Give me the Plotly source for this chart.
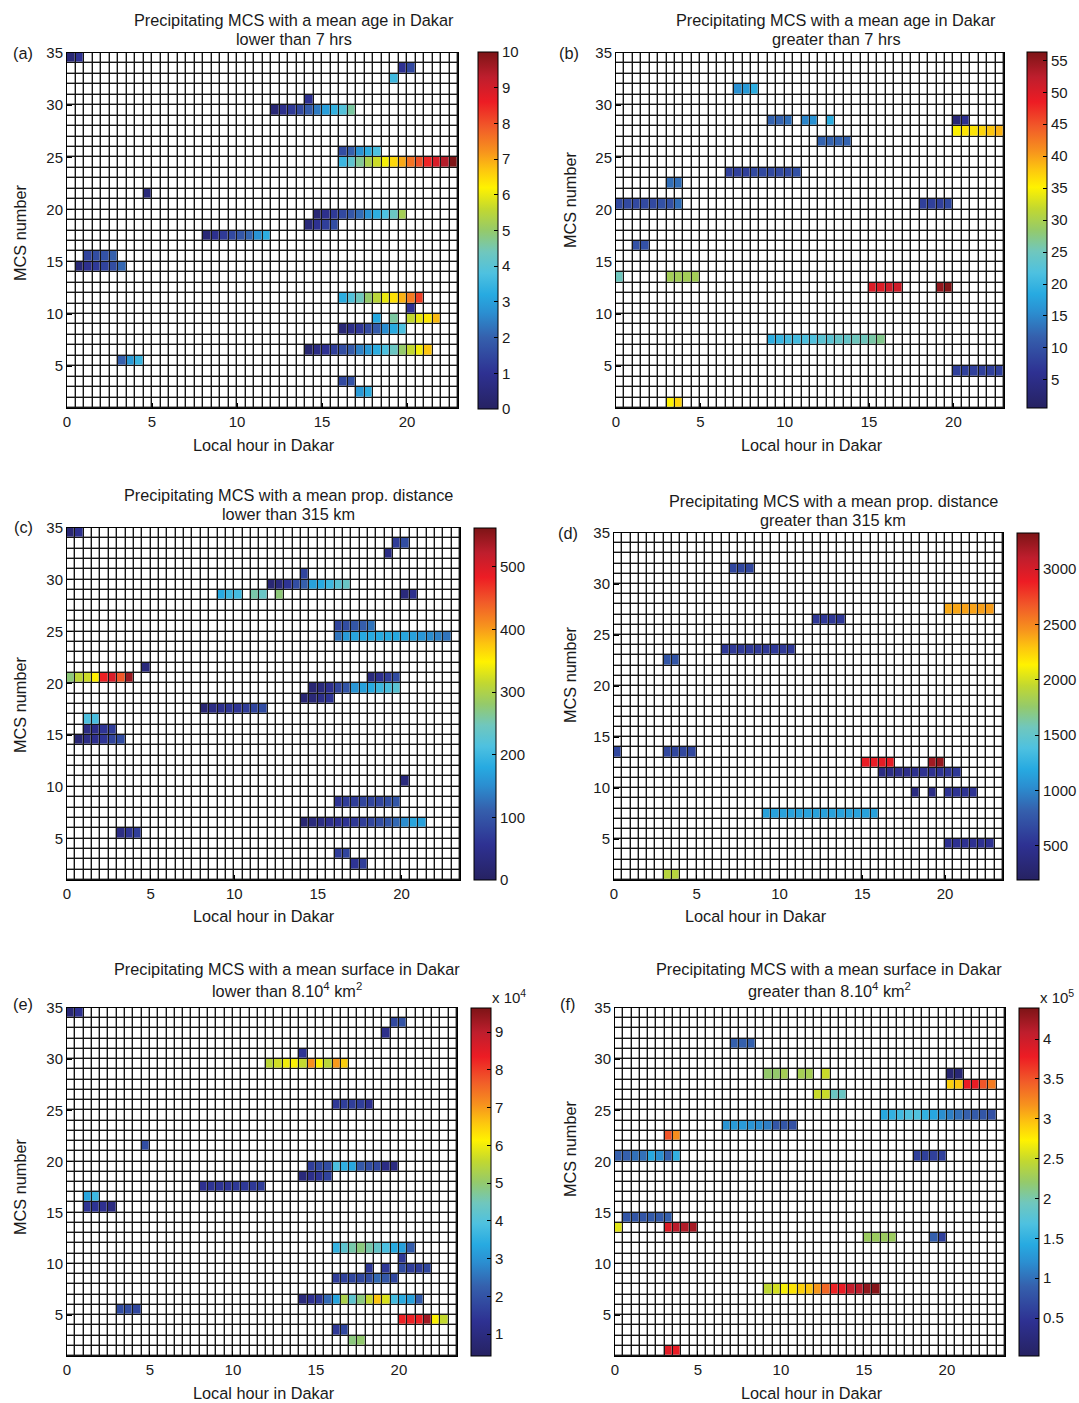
import numpy as np
import plotly.graph_objects as go

W, H = 1079, 1403

# ---------------- DATA ----------------
# Each track: MCS number (row, lower edge), start hour, values of consecutive half-hour cells
# (a) mean age < 7 hrs
A_MCS = [34, 33, 32, 30, 29, 25, 24, 21, 19, 18, 17, 15, 14, 11, 10, 9, 9, 9, 8, 6, 5, 3, 2]
A_START = [0.0, 19.5, 19.0, 14.0, 12.0, 16.0, 16.0, 4.5, 14.5, 14.0, 8.0, 1.0, 0.5, 16.0, 20.0,
           18.0, 19.0, 20.0, 16.0, 14.0, 3.0, 16.0, 17.0]
A_VALUES = [
    [0.4, 1.0], [1.0, 1.5], [3.6], [1.0],
    [0.4, 0.9, 1.2, 1.5, 1.9, 2.4, 3.0, 3.4, 3.9, 4.6],
    [1.6, 2.0, 2.8, 3.3, 3.8],
    [3.5, 4.1, 4.7, 5.3, 5.7, 6.1, 6.5, 7.0, 7.6, 8.0, 8.5, 8.9, 9.4, 10.0],
    [0.5],
    [0.4, 0.9, 1.2, 1.5, 1.8, 2.2, 2.8, 3.3, 3.8, 4.3, 5.2],
    [0.5, 1.0, 1.3, 1.6],
    [0.4, 0.9, 1.2, 1.5, 1.8, 2.1, 2.8, 3.3],
    [1.4, 1.6, 1.7, 2.0],
    [0.4, 0.9, 1.2, 1.4, 1.6, 2.1],
    [3.3, 3.9, 4.4, 5.0, 5.5, 6.0, 6.4, 6.9, 7.5, 8.2],
    [1.0], [3.2], [4.6], [5.6, 6.0, 6.3, 6.8],
    [0.4, 0.8, 1.1, 1.5, 1.9, 2.7, 3.2, 3.8],
    [0.3, 0.7, 1.0, 1.3, 1.6, 1.9, 2.5, 2.9, 3.3, 3.8, 4.3, 5.0, 5.6, 6.1, 6.7],
    [2.0, 2.9, 3.5], [1.5, 1.7], [2.9, 3.3],
]

# (b) mean age > 7 hrs
B_MCS = [31, 28, 28, 28, 28, 27, 26, 23, 22, 20, 20, 16, 13, 13, 12, 12, 7, 4, 1]
B_START = [7.0, 9.0, 11.0, 12.5, 20.0, 20.0, 12.0, 6.5, 3.0, 0.0, 18.0, 1.0, 0.0, 3.0, 15.0, 19.0,
           9.0, 20.0, 3.0]
B_VALUES = [
    [16, 17, 19], [12, 12, 13], [15, 16], [19], [3, 6],
    [35, 36, 36, 37, 38, 39],
    [12, 12, 12, 12],
    [8, 8, 8, 9, 9, 9, 9, 9, 10],
    [13, 13],
    [9, 9, 9, 9, 9, 10, 10, 13], [8, 8, 8, 9],
    [10, 10],
    [25], [29.5, 29.5, 29.5, 29.5],
    [50, 50, 51, 51], [55, 56],
    [19, 20, 21, 21, 22, 22, 23, 23, 24, 24, 25, 25, 26, 27],
    [8, 8, 8, 8, 8, 8],
    [35, 37],
]

# (c) mean propagation distance < 315 km
C_MCS = [34, 33, 32, 30, 29, 28, 28, 28, 28, 25, 24, 21, 20, 20, 19, 18, 17, 16, 15, 14, 10, 8, 6, 5, 3, 2]
C_START = [0.0, 19.5, 19.0, 14.0, 12.0, 9.0, 11.0, 12.5, 20.0, 16.0, 16.0, 4.5, 0.0, 18.0, 14.5, 14.0,
           8.0, 1.0, 1.0, 0.5, 20.0, 16.0, 14.0, 3.0, 16.0, 17.0]
C_VALUES = [
    [20, 50], [70, 90], [40], [80],
    [20, 30, 60, 90, 110, 170, 180, 200, 225, 240],
    [180, 200, 205], [255, 240], [275], [30, 50],
    [80, 90, 100, 110, 130],
    [130, 165, 175, 180, 180, 180, 180, 180, 175, 170, 160, 150, 140, 130],
    [30],
    [275, 310, 320, 350, 480, 500, 445, 545], [30, 50, 70, 90],
    [20, 30, 50, 80, 100, 160, 170, 180, 200, 210, 225],
    [20, 25, 45, 60],
    [20, 40, 50, 60, 60, 70, 80, 90],
    [215, 210],
    [40, 45, 60, 70],
    [20, 40, 50, 60, 80, 90],
    [30],
    [60, 70, 70, 80, 80, 80, 90, 100],
    [20, 30, 40, 50, 55, 60, 65, 70, 80, 90, 100, 120, 150, 175, 170],
    [40, 60, 70], [70, 80], [60, 70],
]

# (d) mean propagation distance > 315 km
D_MCS = [31, 27, 26, 23, 22, 13, 13, 12, 12, 11, 9, 9, 9, 7, 4, 1]
D_START = [7.0, 20.0, 12.0, 6.5, 3.0, 0.0, 3.0, 15.0, 19.0, 16.0, 18.0, 19.0, 20.0, 9.0, 20.0, 3.0]
D_VALUES = [
    [650, 650, 650],
    [2380, 2390, 2400, 2400, 2410, 2420],
    [550, 550, 550, 550],
    [560, 560, 560, 560, 560, 560, 560, 560, 560],
    [750, 750],
    [650], [650, 650, 650, 650],
    [2900, 2900, 2920, 2920], [3200, 3250],
    [400, 420, 450, 450, 480, 500, 500, 520, 530, 560],
    [400], [420], [520, 520, 520, 520],
    [1150, 1150, 1150, 1150, 1150, 1150, 1150, 1150, 1150, 1150, 1150, 1150, 1150, 1150],
    [500, 500, 500, 500, 500, 500],
    [1900, 1900],
]

# (e) mean surface < 8.10^4 km2
E_MCS = [34, 33, 32, 30, 29, 25, 21, 19, 18, 17, 16, 15, 11, 10, 9, 9, 9, 8, 6, 5, 4, 3, 2]
E_START = [0.0, 19.5, 19.0, 14.0, 12.0, 16.0, 4.5, 14.5, 14.0, 8.0, 1.0, 1.0, 16.0, 20.0, 18.0, 19.0,
           20.0, 16.0, 14.0, 3.0, 20.0, 16.0, 17.0]
E_VALUES = [
    [0.8e4, 1.3e4], [1.8e4, 2.0e4], [1.2e4], [1.4e4],
    [5.5e4, 5.7e4, 6.0e4, 6.1e4, 5.6e4, 7.1e4, 6.1e4, 5.5e4, 7.0e4, 6.5e4],
    [1.5e4, 1.6e4, 1.6e4, 1.6e4, 1.3e4],
    [1.9e4],
    [1.6e4, 1.8e4, 1.9e4, 3.9e4, 3.5e4, 3.3e4, 2.1e4, 1.9e4, 1.8e4, 1.1e4, 1.0e4],
    [0.9e4, 1.2e4, 1.4e4, 1.7e4],
    [1.3e4, 1.4e4, 1.4e4, 1.4e4, 1.5e4, 1.5e4, 1.5e4, 1.6e4],
    [3.3e4, 3.7e4],
    [1.4e4, 1.4e4, 1.3e4, 1.0e4],
    [3.6e4, 4.2e4, 4.6e4, 4.9e4, 4.6e4, 4.3e4, 3.9e4, 3.4e4, 3.2e4, 2.2e4],
    [1.5e4], [1.5e4], [1.5e4], [1.9e4, 1.6e4, 1.6e4, 1.8e4],
    [1.6e4, 1.7e4, 1.8e4, 1.8e4, 1.9e4, 2.4e4, 2.1e4, 1.8e4],
    [0.9e4, 1.3e4, 1.5e4, 2.4e4, 3.3e4, 5.3e4, 4.2e4, 4.9e4, 5.6e4, 6.6e4, 5.8e4, 3.8e4, 3.4e4, 3.2e4, 2.2e4],
    [1.9e4, 1.9e4, 1.8e4],
    [8.3e4, 8.3e4, 8.3e4, 9.3e4, 6.1e4, 5.6e4],
    [1.5e4, 1.8e4],
    [4.9e4, 5.0e4],
]

# (f) mean surface > 8.10^4 km2
F_MCS = [31, 28, 28, 28, 28, 27, 26, 24, 23, 22, 20, 20, 14, 13, 13, 12, 12, 7, 1]
F_START = [7.0, 9.0, 11.0, 12.5, 20.0, 20.0, 12.0, 16.0, 6.5, 3.0, 0.0, 18.0, 0.5, 0.0, 3.0, 15.0, 19.0,
           9.0, 3.0]
F_VALUES = [
    [0.9e5, 0.9e5, 0.9e5],
    [2.2e5, 2.2e5, 2.3e5], [2.3e5, 2.3e5], [2.5e5], [0.15e5, 0.2e5],
    [2.9e5, 2.95e5, 3.8e5, 3.8e5, 3.5e5, 3.3e5],
    [2.5e5, 2.5e5, 1.9e5, 1.9e5],
    [1.4e5, 1.5e5, 1.6e5, 1.7e5, 1.7e5, 1.5e5, 1.4e5, 1.2e5, 1.1e5, 1.0e5, 0.9e5, 0.85e5, 0.8e5, 0.75e5],
    [1.25e5, 1.3e5, 1.3e5, 1.25e5, 1.2e5, 1.1e5, 0.8e5, 0.8e5, 0.75e5],
    [3.5e5, 3.2e5],
    [0.9e5, 0.9e5, 1.0e5, 1.0e5, 1.4e5, 1.2e5, 0.9e5, 1.5e5], [0.6e5, 0.6e5, 0.6e5, 0.6e5],
    [0.8e5, 0.8e5, 0.8e5, 0.85e5, 0.85e5, 0.9e5],
    [2.6e5], [3.9e5, 4.1e5, 4.15e5, 4.2e5],
    [2.25e5, 2.25e5, 2.25e5, 2.25e5], [0.9e5, 0.6e5],
    [2.45e5, 2.55e5, 2.7e5, 2.8e5, 2.9e5, 2.95e5, 3.15e5, 3.4e5, 3.75e5, 3.8e5, 4.05e5, 4.1e5, 4.3e5, 4.35e5],
    [3.85e5, 3.8e5],
]

X_TICKS = [0, 5, 10, 15, 20]
Y_TICKS = [5, 10, 15, 20, 25, 30, 35]
TITLE1 = ["Precipitating MCS with a mean age in Dakar",
          "Precipitating MCS with a mean age in Dakar",
          "Precipitating MCS with a mean prop. distance",
          "Precipitating MCS with a mean prop. distance",
          "Precipitating MCS with a mean surface in Dakar",
          "Precipitating MCS with a mean surface in Dakar"]
TITLE2 = ["lower than 7 hrs", "greater than 7 hrs", "lower than 315 km", "greater than 315 km",
          "lower than 8.10<sup>4</sup> km<sup>2</sup>", "greater than 8.10<sup>4</sup> km<sup>2</sup>"]
LABELS = ["(a)", "(b)", "(c)", "(d)", "(e)", "(f)"]

CB_TICKVALS = [
    list(range(0, 11)),
    list(range(5, 60, 5)),
    [0, 100, 200, 300, 400, 500],
    [500, 1000, 1500, 2000, 2500, 3000],
    [1e4, 2e4, 3e4, 4e4, 5e4, 6e4, 7e4, 8e4, 9e4],
    [0.5e5, 1e5, 1.5e5, 2e5, 2.5e5, 3e5, 3.5e5, 4e5],
]
CB_TICKTEXT = [
    [str(v) for v in range(0, 11)],
    [str(v) for v in range(5, 60, 5)],
    ["0", "100", "200", "300", "400", "500"],
    ["500", "1000", "1500", "2000", "2500", "3000"],
    ["1", "2", "3", "4", "5", "6", "7", "8", "9"],
    ["0.5", "1", "1.5", "2", "2.5", "3", "3.5", "4"],
]
ZRANGE = [(0, 10), (0.6, 56.3), (0, 562), (193, 3325), (0.42e4, 9.64e4), (0.024e5, 4.39e5)]

# ---------------- STYLE / LAYOUT ----------------
FONT = "Liberation Sans, Arial, Helvetica, sans-serif"
TXT = "#1a1a1a"
TITLE_SIZE = 16.3
LABEL_SIZE = 16.3
TICK_SIZE = 15

COLORSCALE = [
    [0.00, "#262262"], [0.10, "#2e3192"], [0.20, "#3560ad"], [0.27, "#2b8fd1"],
    [0.32, "#27aae1"], [0.38, "#4ec1e0"], [0.44, "#70c7bd"], [0.50, "#95ca6a"],
    [0.56, "#c2d830"], [0.62, "#fff200"], [0.67, "#fdc60f"], [0.72, "#f7941d"],
    [0.79, "#f15a29"], [0.86, "#ed1c24"], [0.93, "#be1e2d"], [1.00, "#7d1416"],
]

# panel geometry in pixels: (left, top, right, bottom), n columns, colorbar (left, top, width, height)
PANELS = [
    dict(data=(A_MCS, A_START, A_VALUES), box=(67, 53, 458, 408), ncols=46, cb=(478, 52, 20, 357),
         t=(294, 20, 39), lab=(23, 53), ylab=(20, 233), xlab=(264, 445)),
    dict(data=(B_MCS, B_START, B_VALUES), box=(616, 53, 1004, 408), ncols=46, cb=(1027, 52, 20, 356),
         t=(836, 20, 39), lab=(569, 53), ylab=(570, 200), xlab=(812, 445)),
    dict(data=(C_MCS, C_START, C_VALUES), box=(67, 528, 460, 880), ncols=47, cb=(474, 528, 22, 352),
         t=(288, 495, 514), lab=(23, 527), ylab=(20, 705), xlab=(264, 916)),
    dict(data=(D_MCS, D_START, D_VALUES), box=(614, 533, 1003, 880), ncols=47, cb=(1017, 533, 22, 347),
         t=(833, 501, 520), lab=(568, 533), ylab=(570, 675), xlab=(756, 916)),
    dict(data=(E_MCS, E_START, E_VALUES), box=(67, 1008, 457, 1356), ncols=47, cb=(471, 1008, 20, 348),
         t=(287, 969, 990), lab=(23, 1004), ylab=(20, 1187), xlab=(264, 1393), exp=("x 10<sup>4</sup>", 509, 996)),
    dict(data=(F_MCS, F_START, F_VALUES), box=(615, 1008, 1005, 1356), ncols=47, cb=(1019, 1008, 20, 348),
         t=(829, 969, 990), lab=(567, 1004), ylab=(570, 1149), xlab=(812, 1393), exp=("x 10<sup>5</sup>", 1057, 996)),
]


def px(x):
    return x / W


def py(y):
    return 1 - y / H


fig = go.Figure()
layout = dict(width=W, height=H, margin=dict(l=0, r=0, t=0, b=0, pad=0, autoexpand=False),
              autosize=False, paper_bgcolor="white", plot_bgcolor="#151515", showlegend=False,
              font=dict(family=FONT, size=TICK_SIZE, color=TXT))
annotations = []

NROWS = 34
for i, p in enumerate(PANELS):
    mcs, start, vals = p["data"]
    ncols = p["ncols"]
    z = np.full((NROWS, ncols), np.nan)
    for m, s, vv in zip(mcs, start, vals):
        c0 = int(round(s * 2))
        for k, v in enumerate(vv):
            z[m - 1, c0 + k] = v
    xedges = np.arange(ncols + 1) * 0.5
    yedges = np.arange(1, NROWS + 2)
    xa = "x" if i == 0 else f"x{i+1}"
    ya = "y" if i == 0 else f"y{i+1}"

    # white cells (empty grid)
    fig.add_trace(go.Heatmap(z=np.zeros((NROWS, ncols)), x=xedges, y=yedges,
                             colorscale=[[0, "white"], [1, "white"]], showscale=False,
                             xgap=1.4, ygap=1.4, hoverinfo="skip", xaxis=xa, yaxis=ya))
    l, t, r, b = p["cb"][0], p["cb"][1], p["cb"][2], p["cb"][3]
    zmin, zmax = ZRANGE[i]
    fig.add_trace(go.Heatmap(
        z=z, x=xedges, y=yedges, colorscale=COLORSCALE, zmin=zmin, zmax=zmax,
        xgap=1.4, ygap=1.4, xaxis=xa, yaxis=ya, hoverongaps=False,
        colorbar=dict(x=px(l), xanchor="left", xpad=0, y=py(t), yanchor="top", ypad=0,
                      len=b / H, lenmode="fraction", thickness=r, thicknessmode="pixels",
                      outlinewidth=1, outlinecolor="black", ticks="inside", ticklen=4,
                      tickcolor="black", tickvals=CB_TICKVALS[i], ticktext=CB_TICKTEXT[i],
                      tickfont=dict(size=TICK_SIZE, color=TXT, family=FONT))))

    L, T, R, B = p["box"]
    axkey_x = "xaxis" if i == 0 else f"xaxis{i+1}"
    axkey_y = "yaxis" if i == 0 else f"yaxis{i+1}"
    layout[axkey_x] = dict(domain=[px(L), px(R)], anchor=ya, range=[0, ncols * 0.5],
                           tickvals=X_TICKS, ticks="inside", ticklen=5, tickcolor="black",
                           showline=True, mirror=True, linecolor="black", linewidth=1,
                           showgrid=False, zeroline=False, tickfont=dict(size=TICK_SIZE, color=TXT))
    layout[axkey_y] = dict(domain=[py(B), py(T)], anchor=xa, range=[1, NROWS + 1],
                           tickvals=Y_TICKS, ticks="inside", ticklen=5, tickcolor="black",
                           showline=True, mirror=True, linecolor="black", linewidth=1,
                           showgrid=False, zeroline=False, tickfont=dict(size=TICK_SIZE, color=TXT))

    tx, ty1, ty2 = p["t"]
    annotations.append(dict(text=TITLE1[i], x=px(tx), y=py(ty1), xref="paper", yref="paper",
                            xanchor="center", yanchor="middle", showarrow=False,
                            font=dict(size=TITLE_SIZE, color=TXT)))
    annotations.append(dict(text=TITLE2[i], x=px(tx), y=py(ty2), xref="paper", yref="paper",
                            xanchor="center", yanchor="middle", showarrow=False,
                            font=dict(size=TITLE_SIZE, color=TXT)))
    annotations.append(dict(text=LABELS[i], x=px(p["lab"][0]), y=py(p["lab"][1]), xref="paper",
                            yref="paper", xanchor="center", yanchor="middle", showarrow=False,
                            font=dict(size=LABEL_SIZE, color=TXT)))
    annotations.append(dict(text="MCS number", x=px(p["ylab"][0]), y=py(p["ylab"][1]), xref="paper",
                            yref="paper", xanchor="center", yanchor="middle", showarrow=False,
                            textangle=-90, font=dict(size=LABEL_SIZE, color=TXT)))
    annotations.append(dict(text="Local hour in Dakar", x=px(p["xlab"][0]), y=py(p["xlab"][1]),
                            xref="paper", yref="paper", xanchor="center", yanchor="middle",
                            showarrow=False, font=dict(size=LABEL_SIZE, color=TXT)))
    if "exp" in p:
        etxt, ex, ey = p["exp"]
        annotations.append(dict(text=etxt, x=px(ex), y=py(ey), xref="paper", yref="paper",
                                xanchor="center", yanchor="middle", showarrow=False,
                                font=dict(size=TICK_SIZE, color=TXT)))

layout["annotations"] = annotations
fig.update_layout(**layout)
fig.write_html("out.html", config={"displayModeBar": False},
               post_script="document.body.style.margin='0';document.body.style.overflow='hidden';")
